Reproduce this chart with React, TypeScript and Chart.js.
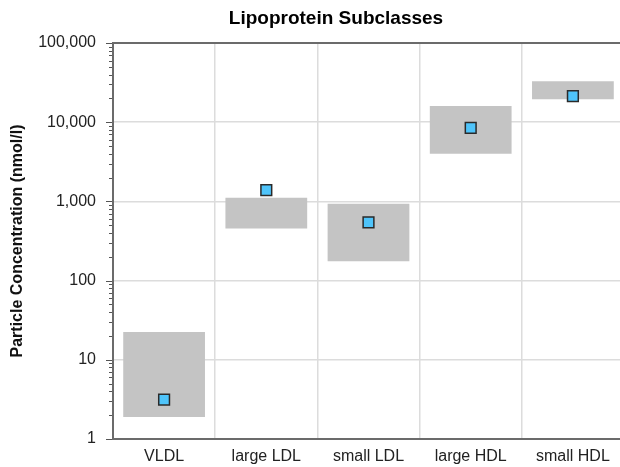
import { useEffect, useRef } from 'react';
import { Chart, registerables } from 'chart.js';

Chart.register(...registerables);

// ---- data ----
const categories = ['VLDL', 'large LDL', 'small LDL', 'large HDL', 'small HDL'];
const rangeLow = [1.9, 455, 175, 4000, 19500];
const rangeHigh = [22.5, 1110, 935, 16000, 33000];
const measured = [3.15, 1390, 545, 8450, 21400];
const yMin = 1;
const yMax = 100000;
const yDecades = [1, 10, 100, 1000, 10000, 100000];

const FONT = "'Liberation Sans', Arial, sans-serif";
const AXIS = '#6b6b6b';
const GRID = '#dcdcdc';

function isDecade(v: number) {
  return yDecades.some((d) => Math.abs(d - v) < d * 1e-9);
}

const tickMarkPlugin = {
  id: 'tickMarks',
  afterDraw(chart: any) {
    const s = chart.scales.y;
    const ctx = chart.ctx;
    ctx.save();
    ctx.strokeStyle = '#555';
    ctx.lineWidth = 1;
    const x = s.right - 1;
    s.ticks.forEach((t: any) => {
      const y = Math.round(s.getPixelForValue(t.value)) + 0.5;
      const len = isDecade(t.value) ? 6 : 3;
      ctx.beginPath();
      ctx.moveTo(x - len, y);
      ctx.lineTo(x, y);
      ctx.stroke();
    });
    ctx.restore();
  },
};

export default function App() {
  const ref = useRef<HTMLCanvasElement>(null);
  useEffect(() => {
    document.body.style.margin = '0';
    document.body.style.overflow = 'hidden';
    const chart = new Chart(ref.current!, {
      type: 'bar',
      data: {
        labels: categories,
        datasets: [
          {
            type: 'line',
            label: 'Measured',
            data: measured,
            showLine: false,
            pointStyle: 'rect',
            pointRadius: 7.6,
            pointBackgroundColor: '#4fc4fa',
            pointBorderColor: '#2a2a2a',
            pointBorderWidth: 1.5,
            order: 0,
          } as any,
          {
            type: 'bar',
            label: 'Reference range',
            data: categories.map((_, i) => [rangeLow[i], rangeHigh[i]]),
            backgroundColor: '#c4c4c4',
            borderWidth: 0,
            barPercentage: 1,
            categoryPercentage: 0.8,
            order: 1,
          } as any,
        ],
      },
      options: {
        responsive: false,
        animation: false,
        devicePixelRatio: 1,
        layout: { padding: 0 },
        plugins: {
          legend: { display: false },
          tooltip: { enabled: false },
          title: {
            display: true,
            text: 'Lipoprotein Subclasses',
            color: '#000',
            font: { family: FONT, size: 19, weight: 'bold' },
            padding: { top: 7.6, bottom: 12.6 },
          },
        },
        scales: {
          x: {
            type: 'category',
            offset: true,
            grid: { offset: true, color: GRID, lineWidth: 1.5, drawTicks: false },
            border: { display: true, color: AXIS, width: 2 },
            ticks: { color: '#222', font: { family: FONT, size: 16 }, padding: 8 },
            afterFit: (s: any) => {
              s.height = 28;
            },
          },
          y: {
            type: 'logarithmic',
            min: yMin,
            max: yMax,
            position: 'left',
            afterBuildTicks: (s: any) => {
              const ticks: any[] = [];
              yDecades.forEach((d) => {
                for (let m = 1; m <= 9; m++) {
                  const v = m * d;
                  if (v <= yMax) ticks.push({ value: v, major: m === 1 });
                }
              });
              s.ticks = ticks;
            },
            afterFit: (s: any) => {
              s.width = 113;
            },
            grid: {
              drawTicks: false,
              color: (c: any) => {
                const v = c.tick ? c.tick.value : 0;
                if (!isDecade(v)) return 'rgba(0,0,0,0)';
                if (v >= yMax) return AXIS;
                return GRID;
              },
              lineWidth: (c: any) => {
                const v = c.tick ? c.tick.value : 0;
                return v >= yMax ? 2 : 1.5;
              },
            },
            border: { display: true, color: AXIS, width: 2 },
            ticks: {
              autoSkip: false,
              color: '#222',
              font: { family: FONT, size: 16 },
              padding: 17,
              callback: (v: any) => (isDecade(Number(v)) ? Number(v).toLocaleString('en-US') : ''),
            },
            title: {
              display: true,
              text: 'Particle Concentration (nmol/l)',
              color: '#111',
              font: { family: FONT, size: 16, weight: 'bold' },
              padding: { top: 7.5, bottom: 0 },
            },
          },
          y2: {
            type: 'linear',
            position: 'right',
            display: true,
            grid: { display: false, drawTicks: false },
            border: { display: false },
            ticks: { display: false },
            afterFit: (s: any) => {
              s.width = 48;
            },
          },
        },
      },
      plugins: [tickMarkPlugin],
    });
    return () => chart.destroy();
  }, []);
  return (
    <div style={{ width: 672, height: 467 }}>
      <canvas ref={ref} width={672} height={467} style={{ display: 'block' }} />
    </div>
  );
}
